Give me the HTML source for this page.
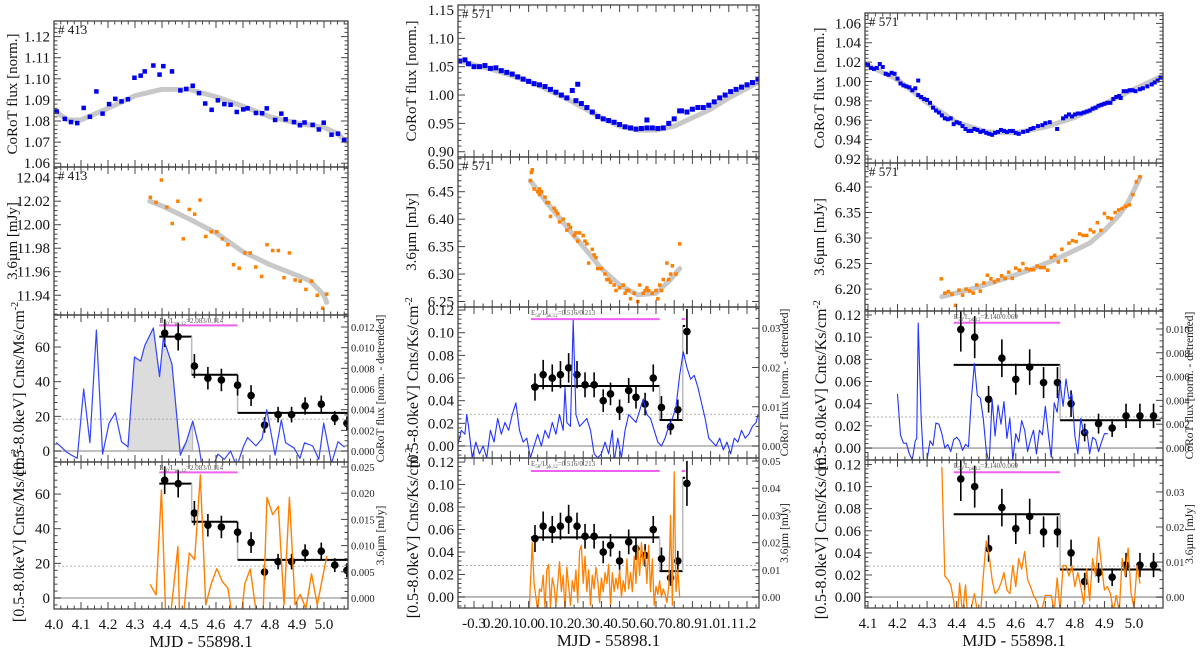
<!DOCTYPE html>
<html><head><meta charset="utf-8"><style>
html,body{margin:0;padding:0;background:#fff;}
svg{display:block;}
svg text{font-family:"Liberation Serif","DejaVu Serif",serif;}
</style></head><body>
<svg id="fig" width="1200" height="651" viewBox="0 0 1200 651" font-family="Liberation Serif, serif"></svg>
<script>
// ===== Column 1 (#413) data =====
const c1BlueX=[4.01,4.04,4.063,4.086,4.11,4.133,4.157,4.18,4.204,4.227,4.25,4.274,4.298,4.321,4.336,4.368,4.391,4.405,4.437,4.468,4.49,4.514,4.537,4.56,4.584,4.607,4.631,4.654,4.677,4.701,4.717,4.748,4.771,4.788,4.819,4.842,4.858,4.889,4.911,4.928,4.958,4.981,4.999,5.028,5.052,5.075];
const c1BlueY=[1.0845,1.081,1.0795,1.079,1.0862,1.082,1.094,1.0835,1.088,1.0905,1.0893,1.0903,1.1005,1.1015,1.1035,1.1063,1.102,1.106,1.1035,1.0945,1.0952,1.0967,1.0932,1.0883,1.0853,1.0898,1.088,1.0877,1.0843,1.0855,1.086,1.0838,1.0837,1.086,1.0805,1.0835,1.0808,1.0795,1.078,1.0793,1.0782,1.076,1.0792,1.0735,1.074,1.071];
const c1FitX=[4.0,4.05,4.1,4.2,4.3,4.4,4.5,4.6,4.7,4.8,4.9,5.0,5.05,5.085];
const c1FitY=[1.085,1.0805,1.0805,1.086,1.092,1.095,1.095,1.0915,1.087,1.082,1.079,1.077,1.074,1.070];
const c1IrX=[4.357,4.378,4.398,4.418,4.438,4.459,4.479,4.501,4.521,4.541,4.562,4.583,4.603,4.624,4.644,4.665,4.686,4.707,4.727,4.747,4.769,4.789,4.81,4.831,4.852,4.872,4.893,4.912,4.933,4.954,4.975,4.995,5.01];
const c1IrY=[12.0233,12.019,12.038,12.015,12.001,12.020,11.988,12.013,12.009,12.021,11.990,11.994,11.994,11.988,11.983,11.966,11.963,11.976,11.976,11.964,11.956,11.983,11.978,11.978,11.955,11.976,11.953,11.952,11.945,11.952,11.94,11.929,11.941];
const c1IrFitX=[4.355,4.4,4.5,4.6,4.7,4.8,4.9,4.95,5.0,5.01];
const c1IrFitY=[12.020,12.016,12.005,11.993,11.977,11.966,11.957,11.952,11.94,11.934];
const c1XrX=[4.41,4.46,4.52,4.57,4.62,4.68,4.73,4.78,4.83,4.88,4.93,4.99,5.04,5.085];
const c1XrY=[68,66,49,42,41,38,32,15,21,21,26,27,19,16];
const c1XrErr=[8,8,7,6.5,6.5,6,6,4.5,4.5,4.5,5,5,4,4];
const c1StepEdges=[4.39,4.51,4.68,5.09];
const c1StepLevels=[66,44,22];
const c1LcX=[4.01,4.047,4.065,4.086,4.11,4.133,4.157,4.18,4.204,4.227,4.25,4.274,4.298,4.321,4.336,4.368,4.391,4.405,4.437,4.468,4.49,4.514,4.537,4.56,4.607,4.631,4.654,4.677,4.701,4.717,4.748,4.771,4.788,4.819,4.842,4.858,4.889,4.911,4.928,4.958,4.981,4.999,5.028,5.052,5.075];
const c1LcY=[0.0008,-0.0001,-0.0004,-0.0007,0.006,0.0008,0.0117,-0.0003,0.0027,0.0037,0.0009,0.0004,0.0091,0.0087,0.0102,0.0119,0.0072,0.0109,0.0084,-0.0004,0.0009,0.0029,0.0004,-0.0034,-0.0003,-0.0008,0,-0.0015,0.0004,0.0013,0.0005,0.0012,0.004,-0.0004,0.003,0.0008,0.0003,-0.0007,0.0008,0.0005,-0.0008,0.0027,-0.0012,0.0009,0.0004];
const c1IrLcX=[4.357,4.378,4.398,4.418,4.459,4.468,4.501,4.521,4.542,4.562,4.583,4.603,4.624,4.644,4.68,4.707,4.727,4.747,4.77,4.789,4.81,4.831,4.852,4.872,4.893,4.912,4.933,4.954,4.975,5.01];
const c1IrLcY=[0.0025,0.0006,0.0206,-0.01,0.0098,-0.01,0.0086,0.0073,0.0235,-0.0013,0.0028,0.0056,0.0031,0.0019,-0.01,0.0028,0.0055,-0.002,-0.01,0.0192,0.0159,0.0175,-0.0013,0.0192,-0.0013,0.0007,-0.002,0.0046,-0.0013,0.0079];

// ===== Column 2 (#571) data =====
const c2BlueX=[-0.38,-0.35,-0.33,-0.30,-0.27,-0.24,-0.21,-0.18,-0.15,-0.12,-0.09,-0.06,-0.03,0.00,0.03,0.06,0.09,0.12,0.15,0.18,0.21,0.24,0.27,0.26,0.29,0.32,0.35,0.38,0.41,0.44,0.47,0.50,0.53,0.56,0.59,0.62,0.65,0.65,0.68,0.71,0.74,0.77,0.80,0.83,0.84,0.87,0.90,0.93,0.96,0.99,1.02,1.05,1.08,1.11,1.14,1.17,1.20,1.23,1.26];
const c2BlueY=[1.060,1.062,1.055,1.050,1.050,1.052,1.047,1.048,1.043,1.040,1.037,1.032,1.028,1.024,1.020,1.018,1.015,1.010,1.005,1.000,0.995,1.008,1.019,0.990,0.985,0.978,0.970,0.962,0.958,0.955,0.952,0.948,0.944,0.942,0.940,0.941,0.956,0.942,0.942,0.941,0.942,0.950,0.958,0.972,0.972,0.970,0.975,0.978,0.978,0.982,0.988,0.995,1.000,1.006,1.010,1.014,1.018,1.022,1.028];
const c2FitX=[-0.38,-0.2,0.0,0.2,0.4,0.5,0.6,0.7,0.8,0.9,1.0,1.1,1.2,1.26];
const c2FitY=[1.060,1.045,1.025,0.995,0.960,0.945,0.938,0.938,0.945,0.960,0.975,0.995,1.012,1.022];
const c2IrX=[0.01,0.015,0.02,0.03,0.05,0.06,0.07,0.09,0.11,0.12,0.14,0.16,0.17,0.19,0.21,0.23,0.25,0.27,0.28,0.30,0.32,0.33,0.35,0.37,0.38,0.40,0.42,0.43,0.45,0.47,0.48,0.50,0.52,0.53,0.55,0.56,0.58,0.60,0.61,0.63,0.65,0.66,0.68,0.70,0.71,0.73,0.74,0.76,0.77,0.78,0.79,0.81,0.83,0.06,0.10,0.15,0.22,0.26,0.31,0.36,0.44,0.54,0.64,0.72];
const c2IrY=[6.47,6.485,6.49,6.455,6.45,6.455,6.45,6.44,6.43,6.405,6.42,6.41,6.395,6.40,6.38,6.385,6.37,6.36,6.375,6.37,6.355,6.32,6.345,6.33,6.31,6.31,6.30,6.29,6.285,6.28,6.27,6.275,6.28,6.265,6.27,6.255,6.265,6.25,6.28,6.265,6.275,6.27,6.265,6.27,6.255,6.27,6.29,6.32,6.29,6.30,6.315,6.30,6.355,6.445,6.43,6.415,6.39,6.375,6.36,6.335,6.29,6.27,6.27,6.28];
const c2IrFitX=[0.01,0.1,0.2,0.3,0.4,0.5,0.6,0.7,0.78,0.83];
const c2IrFitY=[6.47,6.43,6.39,6.35,6.31,6.28,6.262,6.265,6.29,6.31];
const c2XrX=[0.035,0.08,0.13,0.175,0.22,0.266,0.31,0.36,0.41,0.45,0.50,0.55,0.59,0.64,0.685,0.73,0.78,0.82,0.87];
const c2XrY=[0.052,0.063,0.060,0.063,0.069,0.063,0.054,0.054,0.040,0.046,0.032,0.049,0.043,0.037,0.060,0.034,0.017,0.032,0.101];
const c2XrErr=[0.012,0.013,0.012,0.012,0.013,0.012,0.011,0.011,0.01,0.01,0.009,0.011,0.01,0.01,0.012,0.01,0.007,0.009,0.02];
const c2StepEdges=[0.013,0.72,0.847,0.86];
const c2StepLevels=[0.053,0.023,0.106];
const c2LcX=[-0.39,-0.37,-0.35,-0.34,-0.33,-0.31,-0.29,-0.27,-0.25,-0.23,-0.21,-0.19,-0.17,-0.15,-0.13,-0.11,-0.09,-0.07,-0.05,-0.03,-0.01,0.01,0.03,0.05,0.07,0.09,0.11,0.13,0.15,0.17,0.19,0.20,0.21,0.23,0.245,0.26,0.28,0.30,0.32,0.34,0.36,0.38,0.40,0.42,0.44,0.46,0.47,0.49,0.51,0.53,0.55,0.57,0.59,0.61,0.63,0.65,0.67,0.69,0.71,0.73,0.75,0.77,0.79,0.81,0.83,0.85,0.87,0.89,0.91,0.93,0.95,0.97,0.99,1.01,1.03,1.05,1.07,1.09,1.11,1.13,1.15,1.17,1.19,1.21,1.23,1.25,1.26];
const c2LcY=[0.000,0.004,0.003,0.008,0.005,-0.003,0.001,-0.002,0.000,-0.003,0.004,0.001,0.007,0.003,0.006,0.004,0.008,0.011,0.004,0.001,0.002,-0.003,0.000,0.003,0.000,0.004,0.002,0.006,0.003,0.008,0.004,0.015,0.006,0.005,0.032,0.008,0.005,0.006,0.007,0.004,-0.002,-0.003,-0.002,0.001,-0.002,0.004,-0.004,0.002,-0.003,0.004,0.008,0.007,0.006,0.009,0.012,0.008,0.007,0.004,0.001,0.000,0.002,0.005,0.007,0.010,0.018,0.024,0.020,0.017,0.018,0.015,0.011,0.007,0.002,0.001,0.000,0.002,-0.001,0.001,-0.002,0.002,0.001,0.004,0.002,0.003,0.005,0.006,0.008];
const c2IrLcX=[0.00,0.02,0.03,0.05,0.06,0.07,0.08,0.09,0.10,0.11,0.12,0.13,0.14,0.15,0.16,0.17,0.18,0.19,0.20,0.21,0.22,0.23,0.24,0.25,0.26,0.27,0.28,0.29,0.30,0.31,0.32,0.33,0.34,0.35,0.36,0.37,0.38,0.39,0.40,0.41,0.42,0.43,0.44,0.45,0.46,0.47,0.48,0.49,0.50,0.51,0.52,0.53,0.54,0.55,0.56,0.57,0.58,0.59,0.60,0.61,0.62,0.63,0.64,0.65,0.66,0.67,0.68,0.69,0.70,0.71,0.72,0.73,0.74,0.75,0.76,0.77,0.78,0.79,0.80,0.81,0.82,0.83];
const c2IrLcY=[-0.01,0.020,0.005,-0.005,0.003,0.002,0.008,-0.004,0.010,0.012,-0.004,0.007,0.004,-0.003,0.005,0.013,0.002,0.008,-0.005,0.011,0.004,-0.003,0.006,0.002,0.010,-0.002,0.017,0.019,0.005,0.015,0.002,0.010,-0.003,0.008,0.003,0.011,0.006,-0.002,0.007,0.002,0.009,0.005,0.012,-0.003,0.009,0.002,0.007,0.003,0.010,0.000,0.006,0.002,0.014,0.003,0.009,0.002,0.015,0.005,0.019,0.008,0.020,0.012,0.017,0.005,0.019,0.002,0.014,-0.003,0.004,0.001,0.006,0.000,0.003,0.001,-0.002,0.004,0.030,-0.003,0.046,0.002,0.010,0.000];

// ===== Column 3 (#571) data =====
const c3BlueX=[4.09,4.10,4.11,4.12,4.13,4.14,4.15,4.16,4.17,4.18,4.19,4.20,4.21,4.22,4.23,4.24,4.25,4.27,4.26,4.27,4.28,4.29,4.30,4.31,4.32,4.33,4.34,4.35,4.36,4.37,4.38,4.39,4.40,4.41,4.42,4.43,4.44,4.45,4.46,4.47,4.48,4.49,4.50,4.51,4.52,4.53,4.54,4.55,4.56,4.57,4.58,4.59,4.60,4.61,4.625,4.64,4.65,4.66,4.675,4.69,4.70,4.715,4.74,4.76,4.77,4.78,4.79,4.80,4.81,4.82,4.83,4.84,4.85,4.86,4.87,4.88,4.89,4.90,4.91,4.92,4.93,4.94,4.95,4.955,4.965,4.975,4.985,4.995,5.005,5.02,5.03,5.045,5.06,5.07,5.08,5.09];
const c3BlueY=[1.018,1.017,1.014,1.013,1.014,1.018,1.015,1.008,1.007,1.009,1.008,1.003,0.998,0.996,0.995,0.994,0.991,1.001,0.993,0.986,0.984,0.982,0.981,0.978,0.973,0.970,0.968,0.965,0.962,0.961,0.962,0.956,0.958,0.957,0.954,0.951,0.949,0.949,0.951,0.950,0.948,0.949,0.947,0.946,0.945,0.947,0.948,0.950,0.949,0.948,0.949,0.949,0.947,0.946,0.948,0.949,0.951,0.952,0.954,0.955,0.957,0.958,0.951,0.962,0.964,0.966,0.964,0.966,0.967,0.967,0.968,0.969,0.970,0.972,0.973,0.975,0.976,0.977,0.978,0.978,0.982,0.984,0.985,0.983,0.990,0.990,0.991,0.991,0.990,0.992,0.993,0.995,0.997,0.999,1.001,1.004];
const c3FitX=[4.09,4.2,4.3,4.4,4.5,4.6,4.7,4.8,4.9,5.0,5.09];
const c3FitY=[1.018,1.002,0.978,0.958,0.948,0.947,0.953,0.963,0.977,0.992,1.005];
const c3IrX=[4.348,4.36,4.372,4.384,4.396,4.408,4.42,4.432,4.444,4.456,4.468,4.48,4.492,4.504,4.516,4.528,4.54,4.552,4.564,4.576,4.588,4.60,4.612,4.624,4.636,4.648,4.66,4.672,4.684,4.696,4.708,4.72,4.732,4.744,4.756,4.768,4.78,4.792,4.804,4.816,4.828,4.84,4.852,4.864,4.876,4.888,4.90,4.912,4.924,4.936,4.948,4.96,4.972,4.984,4.996,5.008,5.02];
const c3IrY=[6.220,6.192,6.195,6.190,6.168,6.198,6.188,6.200,6.196,6.192,6.208,6.196,6.212,6.227,6.220,6.214,6.218,6.226,6.221,6.233,6.221,6.241,6.237,6.250,6.240,6.238,6.238,6.245,6.242,6.242,6.237,6.262,6.266,6.253,6.278,6.256,6.290,6.295,6.293,6.308,6.305,6.305,6.316,6.312,6.330,6.315,6.348,6.340,6.338,6.350,6.355,6.358,6.362,6.365,6.385,6.41,6.42];
const c3IrFitX=[4.35,4.45,4.55,4.65,4.75,4.85,4.9,4.95,4.98,5.02];
const c3IrFitY=[6.185,6.200,6.218,6.238,6.262,6.290,6.315,6.345,6.370,6.418];
const c3XrX=[4.414,4.461,4.508,4.553,4.60,4.647,4.694,4.741,4.787,4.833,4.88,4.926,4.973,5.02,5.066];
const c3XrY=[0.107,0.100,0.044,0.081,0.062,0.073,0.059,0.059,0.040,0.014,0.022,0.018,0.029,0.029,0.029];
const c3XrErr=[0.02,0.019,0.012,0.017,0.014,0.016,0.014,0.014,0.012,0.008,0.009,0.008,0.011,0.011,0.011];
const c3StepEdges=[4.39,4.75,5.09];
const c3StepLevels=[0.075,0.025];
const c3LcX=[4.20,4.21,4.22,4.23,4.24,4.25,4.26,4.265,4.27,4.28,4.29,4.30,4.31,4.32,4.33,4.34,4.35,4.36,4.37,4.38,4.39,4.40,4.41,4.42,4.43,4.44,4.45,4.46,4.47,4.48,4.49,4.50,4.51,4.52,4.53,4.54,4.55,4.56,4.57,4.58,4.59,4.60,4.61,4.62,4.63,4.64,4.65,4.66,4.67,4.68,4.69,4.70,4.71,4.72,4.73,4.74,4.75,4.76,4.77,4.78,4.79,4.80,4.81,4.82,4.83,4.84,4.85,4.86,4.87,4.88,4.89,4.90,4.91];
const c3LcY=[0.0045,0.0011,0.0004,0.0004,-0.0005,-0.001,0.0006,0.0008,0.0105,0.0025,-0.002,-0.001,0.0006,0.0002,0.0021,0.002,0.0012,0.0,0.0003,-0.0003,0.0007,0.0009,0.0006,-0.0002,0.0003,0.0001,0.0042,0.0071,0.0044,0.0042,0.0025,-0.0002,-0.0013,0.0041,0.001,0.0036,0.002,0.0039,0.0008,0.0025,-0.001,0.0012,0.0005,0.0023,0.0015,-0.0003,0.0007,0.0015,-0.0005,0.0015,0.0011,0.0035,0.0012,-0.0008,0.0038,0.003,0.0055,0.0035,0.0058,0.0041,0.0045,0.001,-0.0005,0.0025,0.0012,0.0015,-0.0005,0.0009,0.0007,-0.0003,0.0005,0.0012,0.0012];
const c3IrLcX=[4.35,4.36,4.37,4.38,4.39,4.40,4.41,4.42,4.43,4.44,4.45,4.46,4.47,4.48,4.49,4.50,4.51,4.52,4.53,4.54,4.55,4.56,4.57,4.58,4.59,4.60,4.61,4.62,4.63,4.64,4.65,4.66,4.67,4.68,4.69,4.70,4.71,4.72,4.73,4.74,4.75,4.76,4.77,4.78,4.79,4.80,4.81,4.82,4.83,4.84,4.85,4.86,4.87,4.88,4.89,4.90,4.91,4.92,4.93,4.94,4.95,4.96,4.97,4.98,4.99,5.00,5.01,5.02];
const c3IrLcY=[0.037,0.006,0.005,0.0035,-0.001,-0.01,0.004,-0.005,0.0035,-0.01,-0.003,0.001,-0.004,-0.006,0.006,0.016,0.012,0.005,0.001,0.002,0.004,0.007,0.002,0.001,0.009,0.003,0.011,0.008,0.013,0.005,0.003,0.0005,-0.001,-0.004,-0.003,0.0005,0.0005,0.0005,-0.004,0.0055,-0.004,0.009,0.009,0.006,0.009,0.003,0.007,0.003,-0.002,0.008,-0.001,0.011,0.006,0.017,0.009,0.002,0.003,0.001,-0.004,0.0005,-0.004,0.011,0.006,0.014,0.001,-0.003,0.009,0.004];

// tick label arrays
const c1XTicks=[4.0,4.1,4.2,4.3,4.4,4.5,4.6,4.7,4.8,4.9,5.0];
const c2XTicks=[-0.3,-0.2,-0.1,0.0,0.1,0.2,0.3,0.4,0.5,0.6,0.7,0.8,0.9,1.0,1.1,1.2];
const c2XLabels=["-0.3","0.2","0.1","0.0","0.1","0.2","0.3","0.4","0.5","0.6","0.7","0.8","0.9","1.0","1.1","1.2"];
const c3XTicks=[4.1,4.2,4.3,4.4,4.5,4.6,4.7,4.8,4.9,5.0];

// ===== drawing =====
const NS="http://www.w3.org/2000/svg";
const FONT='Liberation Serif';
const fig=document.getElementById('fig');
function mk(tag,attrs,parent){const e=document.createElementNS(NS,tag);for(const k in attrs)e.setAttribute(k,attrs[k]);if(tag==='text')e.setAttribute('font-family',FONT);(parent||fig).appendChild(e);return e;}
let clipN=0;
function makePanel(geo,xd,yd,yr){
  const p={x0:geo[0],x1:geo[1],y0:geo[2],y1:geo[3],xd:xd,yd:yd,yr:yr};
  p.sx=v=>p.x0+(v-xd[0])/(xd[1]-xd[0])*(p.x1-p.x0);
  p.sy=v=>p.y1-(v-yd[0])/(yd[1]-yd[0])*(p.y1-p.y0);
  if(yr)p.sr=v=>p.y1-(v-yr[0])/(yr[1]-yr[0])*(p.y1-p.y0);
  const id='clip'+(clipN++);
  const cp=mk('clipPath',{id:id});mk('rect',{x:p.x0,y:p.y0,width:p.x1-p.x0,height:p.y1-p.y0},cp);
  p.g=mk('g',{'clip-path':'url(#'+id+')'});
  
  
  return p;
}
function frame(p,yticks,ydec,xticks,xminor,ylabel,opts){
  opts=opts||{};
  const g=mk('g',{});
  
  
  mk('rect',{x:p.x0,y:p.y0,width:p.x1-p.x0,height:p.y1-p.y0,fill:'none',stroke:'#444','stroke-width':1.3},g);
  const step=xticks[1]-xticks[0];
  for(let v=xticks[0]-step;v<=p.xd[1]+1e-9;v+=step/xminor){
    if(v<p.xd[0]-1e-9)continue;
    const major=Math.abs(((v-xticks[0])/step)-Math.round((v-xticks[0])/step))<1e-6;
    const x=p.sx(v),L=major?7:3.5;
    mk('line',{x1:x,x2:x,y1:p.y1,y2:p.y1-L,stroke:'#444','stroke-width':1},g);
    mk('line',{x1:x,x2:x,y1:p.y0,y2:p.y0+L,stroke:'#444','stroke-width':1},g);
  }
  const ys=yticks[1]-yticks[0];
  for(let v=yticks[0]-ys;v<=p.yd[1]+1e-9;v+=ys/5){
    if(v<p.yd[0]-1e-9)continue;
    const major=Math.abs(((v-yticks[0])/ys)-Math.round((v-yticks[0])/ys))<1e-6;
    const y=p.sy(v),L=major?7:3.5;
    mk('line',{x1:p.x0,x2:p.x0+L,y1:y,y2:y,stroke:'#444','stroke-width':1},g);
    if(!p.yr)mk('line',{x1:p.x1,x2:p.x1-L,y1:y,y2:y,stroke:'#444','stroke-width':1},g);
  }
  yticks.forEach(v=>{
    const t=mk('text',{x:p.x0-4,y:p.sy(v)+5,'text-anchor':'end','font-size':15,fill:'#111'},g);
    t.textContent=v.toFixed(ydec);
    
    
  });
  if(opts.rticks){
    const rs=opts.rticks[1]-opts.rticks[0];
    for(let v=opts.rticks[0];v<=p.yr[1]+1e-9;v+=rs/4){
      const major=Math.abs(((v-opts.rticks[0])/rs)-Math.round((v-opts.rticks[0])/rs))<1e-6;
      const y=p.sr(v);mk('line',{x1:p.x1,x2:p.x1-(major?7:3.5),y1:y,y2:y,stroke:'#444','stroke-width':1},g);
    }
    opts.rticks.forEach(v=>{
      const t=mk('text',{x:p.x1+3,y:p.sr(v)+4,'font-size':10.5,fill:'#222'},g);
      t.textContent=v.toFixed(opts.rdec);
      
      
    });
    const cy=(p.y0+p.y1)/2;
    const rt=mk('text',{x:opts.rx,y:cy,'text-anchor':'middle','font-size':11.5,fill:'#222',transform:'rotate(-90 '+opts.rx+' '+cy+')'},g);
    rt.textContent=opts.rlabel;
    
    
  }
  if(ylabel){
    const cy=(p.y0+p.y1)/2,lx=opts.lx;
    const t=mk('text',{x:lx,y:cy,'text-anchor':'middle','font-size':opts.lfs||15,fill:'#111',transform:'rotate(-90 '+lx+' '+cy+')'},g);
    t.innerHTML=ylabel;
    
    
  }
  if(opts.tag){
    const t=mk('text',{x:p.x0+4,y:p.y0+13,'font-size':13,fill:'#111'},g);
    t.textContent=opts.tag;
    
    
  }
  if(opts.xlabels){
    opts.xlabels.forEach((s,i)=>{
      const t=mk('text',{x:p.sx(xticks[i]),y:p.y1+20,'text-anchor':'middle','font-size':15,fill:'#111'},g);
      t.textContent=s;
      
      
    });
    const t=mk('text',{x:(p.x0+p.x1)/2,y:p.y1+38,'text-anchor':'middle','font-size':17,fill:'#111'},g);
    t.textContent='MJD - 55898.1';
    
    
  }
}
function squares(p,xs,ys,color,s){
  xs.forEach((x,i)=>{
    const r=mk('rect',{x:p.sx(x)-s/2,y:p.sy(ys[i])-s/2,width:s,height:s,fill:color},p.g);
    
    
  });
}
function line(p,xs,ys,color,w,useRight){
  const f=useRight?p.sr:p.sy;
  return mk('polyline',{points:xs.map((x,i)=>p.sx(x)+','+f(ys[i])).join(' '),fill:'none',stroke:color,'stroke-width':w,'stroke-linejoin':'round','stroke-linecap':'round'},p.g);
}
function xray(p,xs,ys,es,edges,levels,pink,pinkY,annot,dotY){
  mk('line',{x1:p.x0,x2:p.x1,y1:p.sy(0),y2:p.sy(0),stroke:'#aaa','stroke-width':1.6},p.g);
  mk('line',{x1:p.x0,x2:p.x1,y1:p.sy(dotY),y2:p.sy(dotY),stroke:'#999','stroke-width':0.8,'stroke-dasharray':'2,2'},p.g);
  for(let i=0;i<levels.length;i++){
    const h=mk('line',{x1:p.sx(edges[i]),x2:p.sx(edges[i+1]),y1:p.sy(levels[i]),y2:p.sy(levels[i]),stroke:'#000','stroke-width':2},p.g);
    
    
    if(i<levels.length-1)mk('line',{x1:p.sx(edges[i+1]),x2:p.sx(edges[i+1]),y1:p.sy(levels[i]),y2:p.sy(levels[i+1]),stroke:'#bbb','stroke-width':1.5},p.g);
  }
  pink.forEach(seg=>{
    const l=mk('line',{x1:p.sx(seg[0]),x2:p.sx(seg[1]),y1:p.sy(pinkY),y2:p.sy(pinkY),stroke:'#f060f0','stroke-width':2},p.g);
    
    
  });
  const t=mk('text',{x:p.sx(pink[0][0]),y:p.y0+8,'font-size':7,fill:'#555'},fig);
  t.innerHTML=annot;
  
  
  xs.forEach((x,i)=>{
    mk('line',{x1:p.sx(x),x2:p.sx(x),y1:p.sy(ys[i]-es[i]),y2:p.sy(ys[i]+es[i]),stroke:'#000','stroke-width':1.6},p.g);
    const c=mk('circle',{cx:p.sx(x),cy:p.sy(ys[i]),r:3.8,fill:'#000'},p.g);
    
    
  });
}
const BLUE='#0000ee',ORANGE='#ff7f00',FITC='#c8c8c8';
const cm2='<tspan>[0.5-8.0keV] Cnts/%U/cm</tspan><tspan dy="-6" font-size="10">-2</tspan>';
const ann1='E<tspan font-size="5" dy="2">50</tspan><tspan dy="-2">/L</tspan><tspan font-size="5" dy="2">pk,12</tspan><tspan dy="-2">=2.083/0.114</tspan>';
const ann2='E<tspan font-size="5" dy="2">50</tspan><tspan dy="-2">/L</tspan><tspan font-size="5" dy="2">pk,12</tspan><tspan dy="-2">=0.516/0.213</tspan>';
const ann3='E<tspan font-size="5" dy="2">50</tspan><tspan dy="-2">/L</tspan><tspan font-size="5" dy="2">pk,12</tspan><tspan dy="-2">=2.140/0.069</tspan>';

// ---- Column 1 ----
{
 const xd=[4.0,5.089];
 const p1=makePanel([54,348,21,167],xd,[1.0582,1.1274]);
 line(p1,c1FitX,c1FitY,FITC,5);squares(p1,c1BlueX,c1BlueY,BLUE,4.5);
 frame(p1,[1.06,1.07,1.08,1.09,1.10,1.11,1.12],2,c1XTicks,4,'CoRoT flux [norm.]',{lx:17,tag:'# 413'});
 const p2=makePanel([54,348,167,315],xd,[11.9232,12.0491]);
 line(p2,c1IrFitX,c1IrFitY,FITC,5);squares(p2,c1IrX,c1IrY,ORANGE,3.5);
 frame(p2,[11.94,11.96,11.98,12.00,12.02,12.04],2,c1XTicks,4,'3.6µm [mJy]',{lx:17,tag:'# 413'});
 const p3=makePanel([54,348,315,462],xd,[-6.35,78.5],[-0.00106,0.01316]);
 const sx=[],sy=[];c1LcX.forEach((x,i)=>{if(x>=4.27&&x<=4.515){sx.push(x);sy.push(c1LcY[i]);}});
 const sh=mk('polygon',{points:[p3.sx(sx[0])+','+p3.sr(0)].concat(sx.map((x,i)=>p3.sx(x)+','+p3.sr(Math.max(0,sy[i])))).concat([p3.sx(sx[sx.length-1])+','+p3.sr(0)]).join(' '),fill:'#dcdcdc',stroke:'#aaa','stroke-width':0.8},p3.g);
 
 
 xray(p3,c1XrX,c1XrY,c1XrErr,c1StepEdges,c1StepLevels,[[4.39,4.68]],72.5,ann1,18.4);
 const l3=line(p3,c1LcX,c1LcY,'#3344ff',1.2,true);
 
 
 frame(p3,[0,20,40,60],0,c1XTicks,4,cm2.replace('%U','Ms'),{lx:24,lfs:16,rticks:[0,0.002,0.004,0.006,0.008,0.010,0.012],rdec:3,rx:384,rlabel:'CoRoT flux [norm. - detrended]'});
 const p4=makePanel([54,348,462,609],xd,[-6.35,78.5],[-0.0021,0.02595]);
 xray(p4,c1XrX,c1XrY,c1XrErr,c1StepEdges,c1StepLevels,[[4.39,4.68]],72.5,ann1,18.4);
 const l4=line(p4,c1IrLcX,c1IrLcY,ORANGE,1.4,true);
 
 
 frame(p4,[0,20,40,60],0,c1XTicks,4,cm2.replace('%U','Ms'),{lx:24,lfs:16,rticks:[0,0.005,0.010,0.015,0.020,0.025],rdec:3,rx:384,rlabel:'3.6µm [mJy]',xlabels:c1XTicks.map(v=>v.toFixed(1))});
}
// ---- Column 2 ----
{
 const xd=[-0.388,1.266];
 const p1=makePanel([458,759,5,157],xd,[0.8907,1.1588]);
 line(p1,c2FitX,c2FitY,FITC,5);squares(p1,c2BlueX,c2BlueY,BLUE,5);
 frame(p1,[0.90,0.95,1.00,1.05,1.10,1.15],2,c2XTicks,2,'CoRoT flux [norm.]',{lx:416,tag:'# 571'});
 const p2=makePanel([458,759,157,307],xd,[6.240,6.5132]);
 line(p2,c2IrFitX,c2IrFitY,FITC,5);squares(p2,c2IrX,c2IrY,ORANGE,3.5);
 frame(p2,[6.25,6.30,6.35,6.40,6.45,6.50],2,c2XTicks,2,'3.6µm [mJy]',{lx:416,tag:'# 571'});
 const p3=makePanel([458,759,307,458],xd,[-0.0106,0.1227],[-0.00305,0.0354]);
 xray(p3,c2XrX,c2XrY,c2XrErr,c2StepEdges,c2StepLevels,[[0.013,0.72],[0.84,0.86]],0.112,ann2,0.028);
 const l3=line(p3,c2LcX,c2LcY,'#2233ff',1.1,true);
 
 
 frame(p3,[0,0.02,0.04,0.06,0.08,0.10,0.12],2,c2XTicks,2,cm2.replace('%U','Ks'),{lx:418,lfs:16,rticks:[0,0.01,0.02,0.03],rdec:2,rx:788,rlabel:'CoRoT flux [norm. - detrended]'});
 const p4=makePanel([458,759,458,608],xd,[-0.0098,0.1236],[-0.004,0.0511]);
 xray(p4,c2XrX,c2XrY,c2XrErr,c2StepEdges,c2StepLevels,[[0.013,0.72],[0.84,0.86]],0.112,ann2,0.028);
 const l4=line(p4,c2IrLcX,c2IrLcY,ORANGE,1.3,true);
 
 
 frame(p4,[0,0.02,0.04,0.06,0.08,0.10,0.12],2,c2XTicks,2,cm2.replace('%U','Ks'),{lx:418,lfs:16,rticks:[0,0.01,0.02,0.03,0.04,0.05],rdec:2,rx:788,rlabel:'3.6µm [mJy]',xlabels:c2XLabels});
}
// ---- Column 3 ----
{
 const xd=[4.09,5.098];
 const p1=makePanel([865,1163,13,163],xd,[0.9159,1.0707]);
 line(p1,c3FitX,c3FitY,FITC,5);squares(p1,c3BlueX,c3BlueY,BLUE,4);
 frame(p1,[0.92,0.94,0.96,0.98,1.00,1.02,1.04,1.06],2,c3XTicks,4,'CoRoT flux [norm.]',{lx:824,tag:'# 571'});
 const p2=makePanel([865,1163,163,311],xd,[6.157,6.447]);
 line(p2,c3IrFitX,c3IrFitY,FITC,5);squares(p2,c3IrX,c3IrY,ORANGE,3.5);
 frame(p2,[6.20,6.25,6.30,6.35,6.40],2,c3XTicks,4,'3.6µm [mJy]',{lx:824,tag:'# 571'});
 const p3=makePanel([865,1163,311,460],xd,[-0.0108,0.1236],[-0.00101,0.01151]);
 xray(p3,c3XrX,c3XrY,c3XrErr,c3StepEdges,c3StepLevels,[[4.39,4.75]],0.113,ann3,0.028);
 const l3=line(p3,c3LcX,c3LcY,'#2233ff',1.1,true);
 
 
 frame(p3,[0,0.02,0.04,0.06,0.08,0.10,0.12],2,c3XTicks,4,cm2.replace('%U','Ks'),{lx:826,lfs:16,rticks:[0,0.002,0.004,0.006,0.008,0.010],rdec:3,rx:1193,rlabel:'CoRoT flux [norm. - detrended]'});
 const p4=makePanel([865,1163,460,608],xd,[-0.0099,0.1241],[-0.0031,0.0391]);
 xray(p4,c3XrX,c3XrY,c3XrErr,c3StepEdges,c3StepLevels,[[4.39,4.75]],0.113,ann3,0.028);
 const l4=line(p4,c3IrLcX,c3IrLcY,ORANGE,1.3,true);
 
 
 frame(p4,[0,0.02,0.04,0.06,0.08,0.10,0.12],2,c3XTicks,4,cm2.replace('%U','Ks'),{lx:826,lfs:16,rticks:[0,0.01,0.02,0.03],rdec:2,rx:1193,rlabel:'3.6µm [mJy]',xlabels:c3XTicks.map(v=>v.toFixed(1))});
}
</script>
</body></html>
